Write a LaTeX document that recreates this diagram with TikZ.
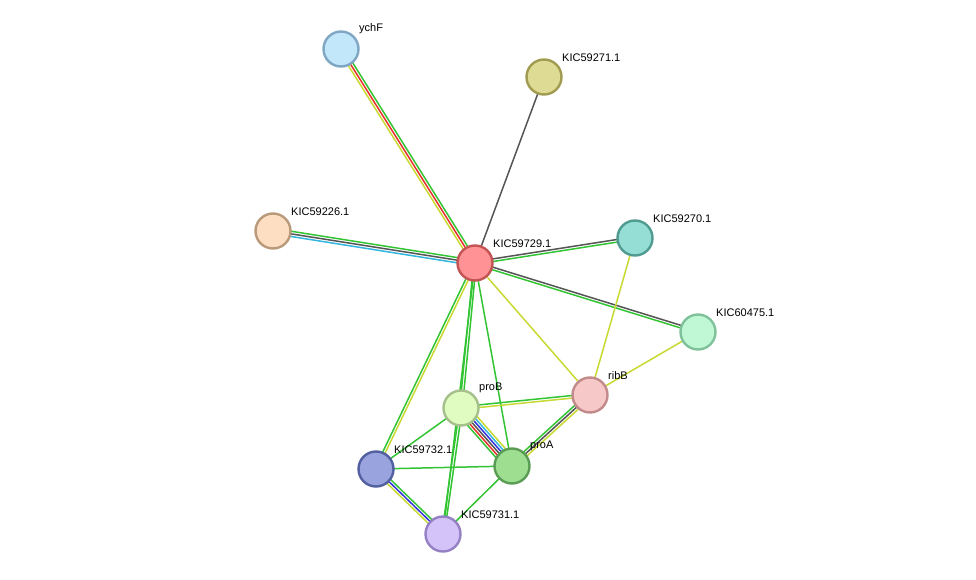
\documentclass[tikz,border=0pt]{standalone}
\usepackage{fontspec}
\setmainfont{Liberation Sans}
\usetikzlibrary{calc}
\definecolor{eg}{HTML}{33C433}
\definecolor{ey}{HTML}{C8D932}
\definecolor{er}{HTML}{E8312B}
\definecolor{ec}{HTML}{33B5E0}
\definecolor{eb}{HTML}{3333E0}
\definecolor{ed}{HTML}{555555}
\definecolor{f1}{HTML}{C2E6FA}\definecolor{s1}{HTML}{7FA6C2}
\definecolor{f2}{HTML}{DEDC94}\definecolor{s2}{HTML}{A09B50}
\definecolor{f3}{HTML}{FDDEC2}\definecolor{s3}{HTML}{B89A7A}
\definecolor{f4}{HTML}{FE9294}\definecolor{s4}{HTML}{C45454}
\definecolor{f5}{HTML}{95DED5}\definecolor{s5}{HTML}{4F9B90}
\definecolor{f6}{HTML}{C0F8D5}\definecolor{s6}{HTML}{7FC199}
\definecolor{f7}{HTML}{F6C8C8}\definecolor{s7}{HTML}{C28A8A}
\definecolor{f8}{HTML}{E0FCC0}\definecolor{s8}{HTML}{A5C08A}
\definecolor{f9}{HTML}{9EDE91}\definecolor{s9}{HTML}{5B9C55}
\definecolor{f10}{HTML}{99A3DD}\definecolor{s10}{HTML}{525FA0}
\definecolor{f11}{HTML}{D4C3F9}\definecolor{s11}{HTML}{9580C4}
\newcommand\edg[4]{\foreach[count=\i] \c in {#4}{\pgfmathsetmacro\o{(\i-(#3+1)/2)*2.6}
  \draw[draw=\c,line width=1.5pt] ($(#1)!\o pt!90:(#2)$) -- ($(#2)!\o pt!-90:(#1)$);}}
\tikzset{prot/.style={circle,minimum size=35pt,inner sep=0,line width=2.4pt,fill=f#1,draw=s#1},
 lab/.style={font=\fontsize{11pt}{13pt}\selectfont,anchor=south west,inner sep=1pt}}
\begin{document}
\begin{tikzpicture}[x=1pt,y=-1pt]
\useasboundingbox (0,0) rectangle (976,580);
\coordinate (ychF) at (341,49);
\coordinate (k271) at (544,77);
\coordinate (k226) at (273,231);
\coordinate (k729) at (475,263);
\coordinate (k270) at (635,238);
\coordinate (k475) at (698,332);
\coordinate (ribB) at (590,395);
\coordinate (proB) at (461,408);
\coordinate (proA) at (512,466);
\coordinate (k732) at (376,469);
\coordinate (k731) at (443,534);
\edg{k729}{ychF}{3}{eg,er,ey}
\edg{k729}{k271}{1}{ed}
\edg{k729}{k226}{3}{eg,ed,ec}
\edg{k729}{k270}{2}{eg,ed}
\edg{k729}{k475}{2}{eg,ed}
\edg{k729}{ribB}{1}{ey}
\edg{k729}{proB}{2}{eg,eg}
\edg{k729}{proA}{1}{eg}
\edg{k729}{k732}{2}{eg,ey}
\edg{k729}{k731}{1}{eg}
\edg{k270}{ribB}{1}{ey}
\edg{k475}{ribB}{1}{ey}
\edg{proB}{ribB}{2}{ey,eg}
\edg{ribB}{proA}{3}{eg,ed,ey}
\edg{proB}{proA}{6}{eg,er,ed,eb,ec,ey}
\edg{proB}{k732}{1}{eg}
\edg{proB}{k731}{2}{eg,eg}
\edg{k732}{proA}{1}{eg}
\edg{k732}{k731}{3}{ey,eb,eg}
\edg{proA}{k731}{1}{eg}
\node[prot=1] (nychF) at (ychF) {};
\node[prot=2] (n271) at (k271) {};
\node[prot=3] (n226) at (k226) {};
\node[prot=4] (n729) at (k729) {};
\node[prot=5] (n270) at (k270) {};
\node[prot=6] (n475) at (k475) {};
\node[prot=7] (nribB) at (ribB) {};
\node[prot=8] (nproB) at (proB) {};
\node[prot=9] (nproA) at (proA) {};
\node[prot=10] (n732) at (k732) {};
\node[prot=11] (n731) at (k731) {};
\node[lab] at ($(ychF)+(17,-14)$) {ychF};
\node[lab] at ($(k271)+(17,-14)$) {KIC59271.1};
\node[lab] at ($(k226)+(17,-14)$) {KIC59226.1};
\node[lab] at ($(k729)+(17,-14)$) {KIC59729.1};
\node[lab] at ($(k270)+(17,-14)$) {KIC59270.1};
\node[lab] at ($(k475)+(17,-14)$) {KIC60475.1};
\node[lab] at ($(ribB)+(17,-14)$) {ribB};
\node[lab] at ($(proB)+(17,-14)$) {proB};
\node[lab] at ($(proA)+(17,-14)$) {proA};
\node[lab] at ($(k732)+(17,-14)$) {KIC59732.1};
\node[lab] at ($(k731)+(17,-14)$) {KIC59731.1};
\end{tikzpicture}
\end{document}
